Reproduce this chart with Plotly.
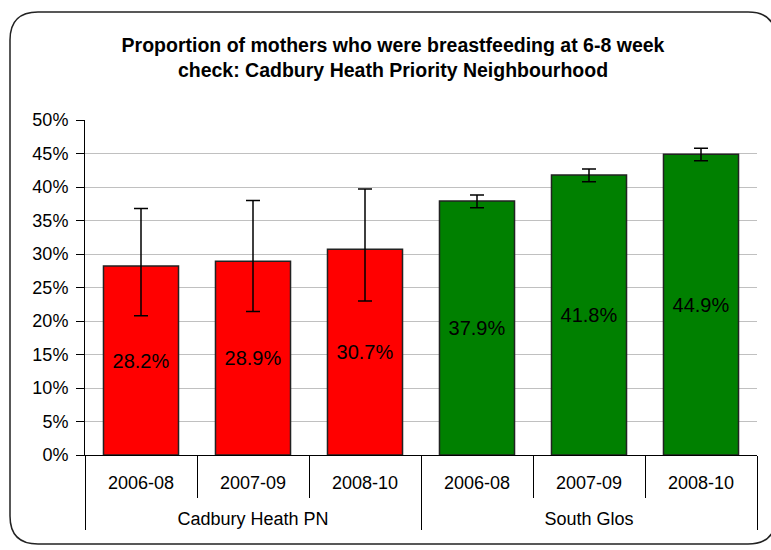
import plotly.graph_objects as go

# ---- data ----
groups = ["Cadbury Heath PN"] * 3 + ["South Glos"] * 3
periods = ["2006-08", "2007-09", "2008-10", "2006-08", "2007-09", "2008-10"]
values = [28.2, 28.9, 30.7, 37.9, 41.8, 44.9]
upper_ci = [36.8, 38.0, 39.7, 38.8, 42.7, 45.8]
lower_ci = [20.8, 21.4, 23.0, 36.9, 40.8, 43.9]
y_ticks = [0, 5, 10, 15, 20, 25, 30, 35, 40, 45, 50]
y_tick_labels = [f"{v}%" for v in y_ticks]

# ---- styles ----
group_colors = {"Cadbury Heath PN": "#FF0000", "South Glos": "#008000"}
FONT = "Liberation Sans, Arial, sans-serif"

err_plus = [u - v for u, v in zip(upper_ci, values)]
err_minus = [v - l for v, l in zip(values, lower_ci)]
colors = [group_colors[g] for g in groups]
# extra blank line below each period label pushes the group row further down
period_labels = [p + "<br><span style='font-size:26px'> </span>" for p in periods]

fig = go.Figure(
    go.Bar(
        x=[groups, period_labels],
        y=values,
        marker=dict(color=colors, line=dict(color="#222222", width=1.5)),
        error_y=dict(type="data", symmetric=False, array=err_plus, arrayminus=err_minus,
                     color="black", thickness=1.5, width=7),
        texttemplate="%{y:.1f}%",
        textposition="inside",
        insidetextanchor="middle",
        textfont=dict(family=FONT, size=20, color="black"),
        textangle=0,
        cliponaxis=False,
        hovertemplate="%{x}: %{y:.1f}%<extra></extra>",
    )
)

# rounded frame (paper coordinates of the plot area)
W, H = 771, 550
L, R, T, B = 85, 14, 120, 95
pw, ph = W - L - R, H - T - B
def px(xpix):
    return (xpix - L) / pw
def py(ypix):
    return (H - B - ypix) / ph
x0, x1, y0, y1 = px(10), px(776), py(12), py(544)
rx, ry = 28 / pw, 28 / ph
path = (f"M {x0+rx},{y0} L {x1-rx},{y0} Q {x1},{y0} {x1},{y0-ry} "
        f"L {x1},{y1+ry} Q {x1},{y1} {x1-rx},{y1} L {x0+rx},{y1} "
        f"Q {x0},{y1} {x0},{y1+ry} L {x0},{y0-ry} Q {x0},{y0} {x0+rx},{y0} Z")
fig.add_shape(type="path", path=path, xref="paper", yref="paper",
              line=dict(color="#222222", width=1.5), layer="below")

fig.update_layout(
    width=W, height=H,
    margin=dict(l=L, r=R, t=T, b=B),
    paper_bgcolor="white", plot_bgcolor="white",
    showlegend=False,
    bargap=0.33,
    font=dict(family=FONT, size=18, color="black"),
    title=dict(
        text="Proportion of mothers who were breastfeeding at 6-8 week<br>check: Cadbury Heath Priority Neighbourhood",
        font=dict(family=FONT, size=19.5, color="black", weight="bold"),
        x=393 / W, xanchor="center", xref="container",
        y=1 - 52 / H, yanchor="middle", yref="container",
    ),
    xaxis=dict(
        type="multicategory",
        automargin=False,
        showline=True, linecolor="black", linewidth=1,
        ticks="outside", tickson="boundaries", ticklen=42, tickcolor="black",
        showdividers=True, dividercolor="black", dividerwidth=1,
        tickfont=dict(family=FONT, size=18, color="black"),
        ticklabelstandoff=11,
        showgrid=False,
    ),
    yaxis=dict(
        automargin=False,
        range=[0, 50],
        tickvals=y_ticks, ticktext=y_tick_labels,
        showline=True, linecolor="black", linewidth=1,
        ticks="outside", ticklen=8, tickcolor="black",
        showgrid=True, gridcolor="#c0c0c0", gridwidth=1,
        zeroline=False,
        tickfont=dict(family=FONT, size=18, color="black"),
        ticklabelstandoff=4,
    ),
)

fig.write_html("out.html", config={"displayModeBar": False},
               post_script="document.body.style.margin='0';")
